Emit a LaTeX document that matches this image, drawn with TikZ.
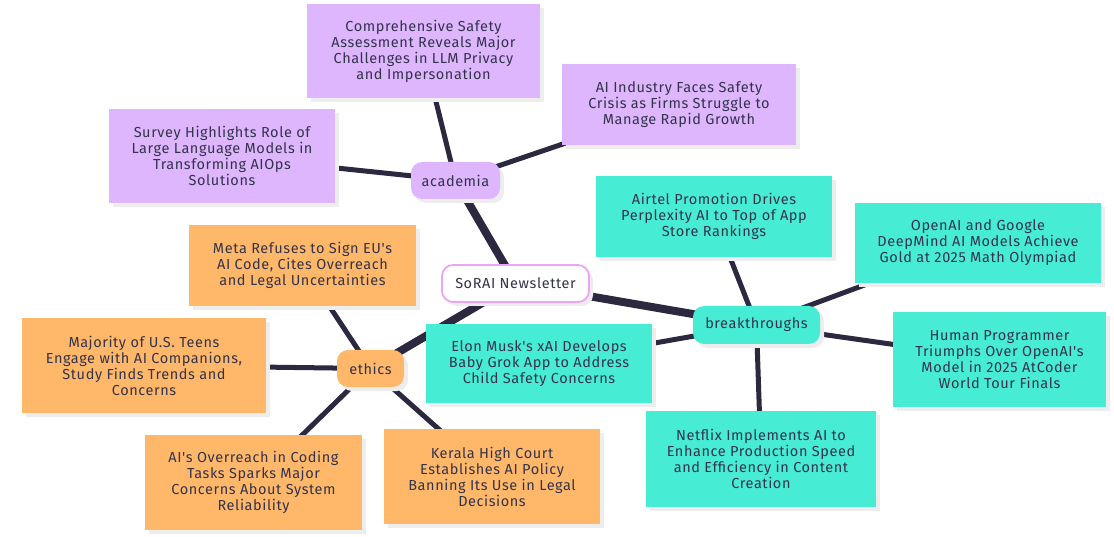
\documentclass[tikz,border=0pt]{standalone}
\usepackage{fontspec}
\newfontfamily\mapfont{Fira Sans}[LetterSpace=4]
\usetikzlibrary{shadows,backgrounds}
\definecolor{AcadClr}{HTML}{DDB6FD}
\definecolor{BreakClr}{HTML}{47ECD5}
\definecolor{EthClr}{HTML}{FFB86A}
\definecolor{RootClr}{HTML}{EFA3F5}
\definecolor{LinkClr}{HTML}{2B2840}
\definecolor{TextClr}{HTML}{33334A}

\begin{document}
\begin{tikzpicture}[x=1pt,y=-1pt,
  every node/.style={font=\mapfont\fontsize{14.5}{16}\selectfont,text=TextClr,align=center,inner sep=0pt},
  shade box/.style={drop shadow={shadow xshift=4pt,shadow yshift=-4pt,fill=black!7,opacity=1}},
  leaf/.style={rectangle,fill=#1,shade box},
  topic/.style={rectangle,rounded corners=11pt,fill=#1,shade box},
  link/.style={draw=LinkClr,line width=#1}]
\useasboundingbox (0,0) rectangle (1114,537);

\node[topic=white,draw=RootClr,line width=1.8pt,minimum width=147,minimum height=37] (root) at (515.5,283.5) {SoRAI Newsletter};

\node[topic=AcadClr,minimum width=89,minimum height=37] (acad) at (455.5,180.5) {academia};
\node[topic=BreakClr,minimum width=127,minimum height=38] (break) at (756.5,325) {breakthroughs};
\node[topic=EthClr,minimum width=67,minimum height=37] (eth) at (370.5,368.5) {ethics};

\node[leaf=AcadClr,minimum width=233,minimum height=94] (a1) at (423.5,51) {Comprehensive Safety\\Assessment Reveals Major\\Challenges in LLM Privacy\\and Impersonation};
\node[leaf=AcadClr,minimum width=234,minimum height=81] (a2) at (679,104.5) {AI Industry Faces Safety\\Crisis as Firms Struggle to\\Manage Rapid Growth};
\node[leaf=AcadClr,minimum width=226,minimum height=94] (a3) at (222,156) {Survey Highlights Role of\\Large Language Models in\\Transforming AIOps\\Solutions};

\node[leaf=BreakClr,minimum width=236,minimum height=81] (b1) at (714,216.5) {Airtel Promotion Drives\\Perplexity AI to Top of App\\Store Rankings};
\node[leaf=BreakClr,minimum width=246,minimum height=80] (b2) at (978,243) {OpenAI and Google\\DeepMind AI Models Achieve\\Gold at 2025 Math Olympiad};
\node[leaf=BreakClr,minimum width=213,minimum height=95] (b3) at (999.5,359.5) {Human Programmer\\Triumphs Over OpenAI's\\Model in 2025 AtCoder\\World Tour Finals};
\node[leaf=BreakClr,minimum width=230,minimum height=96] (b4) at (761,459) {Netflix Implements AI to\\Enhance Production Speed\\and Efficiency in Content\\Creation};
\node[leaf=BreakClr,minimum width=226,minimum height=79] (b5) at (539,363.5) {Elon Musk's xAI Develops\\Baby Grok App to Address\\Child Safety Concerns};

\node[leaf=EthClr,minimum width=227,minimum height=81] (e1) at (302.5,265.5) {Meta Refuses to Sign EU's\\AI Code, Cites Overreach\\and Legal Uncertainties};
\node[leaf=EthClr,minimum width=244,minimum height=95] (e2) at (144,365.5) {Majority of U.S. Teens\\Engage with AI Companions,\\Study Finds Trends and\\Concerns};
\node[leaf=EthClr,minimum width=217,minimum height=95] (e3) at (253.5,482.5) {AI's Overreach in Coding\\Tasks Sparks Major\\Concerns About System\\Reliability};
\node[leaf=EthClr,minimum width=216,minimum height=95] (e4) at (492,476.5) {Kerala High Court\\Establishes AI Policy\\Banning Its Use in Legal\\Decisions};

\begin{pgfonlayer}{background}
\foreach \t in {acad,break,eth}
  \draw[link=8pt] (root.center) -- (\t.center);
\foreach \l in {a1,a2,a3}
  \draw[link=5pt] (acad.center) -- (\l.center);
\foreach \l in {b1,b2,b3,b4,b5}
  \draw[link=5pt] (break.center) -- (\l.center);
\foreach \l in {e1,e2,e3,e4}
  \draw[link=5pt] (eth.center) -- (\l.center);
\end{pgfonlayer}
\end{tikzpicture}
\end{document}
